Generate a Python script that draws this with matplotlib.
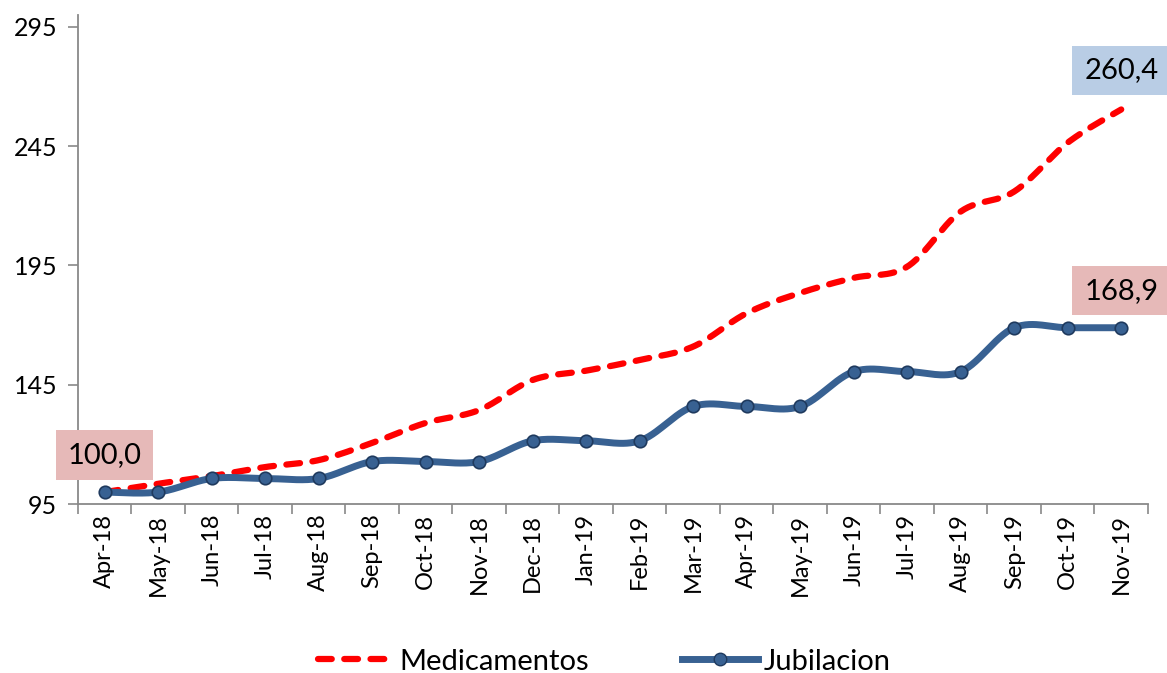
import numpy as np
import matplotlib
matplotlib.use("Agg")
import matplotlib.pyplot as plt

plt.rcParams['font.family'] = ['Lato', 'DejaVu Sans']

months = ["Apr-18", "May-18", "Jun-18", "Jul-18", "Aug-18", "Sep-18", "Oct-18",
          "Nov-18", "Dec-18", "Jan-19", "Feb-19", "Mar-19", "Apr-19", "May-19",
          "Jun-19", "Jul-19", "Aug-19", "Sep-19", "Oct-19", "Nov-19"]
medicamentos = [100.0, 103.5, 106.7, 110.5, 113.4, 120.6, 129.0, 134.4, 147.0, 150.9,
                155.4, 161.0, 175.0, 183.5, 189.8, 194.5, 217.6, 226.0, 246.5, 260.4]
jubilacion = [100.0, 100.0, 105.7, 105.7, 105.7, 112.8, 112.8, 112.8, 121.5, 121.5,
              121.5, 135.9, 135.9, 135.9, 150.5, 150.5, 150.5, 168.9, 168.9, 168.9]

RED = "#FF0000"
BLUE = "#386192"
GRAY = "#898989"


def smooth(y, n=30):
    """Excel-like smoothed line: cubic Bezier with Catmull-Rom control points."""
    x = np.arange(len(y), dtype=float)
    y = np.asarray(y, dtype=float)
    P = np.column_stack((x, y))
    P = np.vstack((P[0], P, P[-1]))
    t = np.linspace(0, 1, n)[:, None]
    out = []
    for i in range(1, len(P) - 2):
        p0, p1, p2, p3 = P[i - 1], P[i], P[i + 1], P[i + 2]
        c1 = p1 + (p2 - p0) / 6
        c2 = p2 - (p3 - p1) / 6
        seg = ((1 - t) ** 3) * p1 + 3 * ((1 - t) ** 2) * t * c1 + 3 * (1 - t) * t ** 2 * c2 + t ** 3 * p2
        out.append(seg if i == 1 else seg[1:])
    seg = np.vstack(out)
    return seg[:, 0], seg[:, 1]


fig = plt.figure(figsize=(11.67, 6.73), dpi=100)
ax = fig.add_axes([0.0668, 0.2511, 0.9169, 0.7266])

xm, ym = smooth(medicamentos)
ax.plot(xm, ym, color=RED, lw=4.5, dashes=(2.2, 2.0), dash_capstyle='round', zorder=3)
xj, yj = smooth(jubilacion)
ax.plot(xj, yj, color=BLUE, lw=5, solid_capstyle='round', zorder=4)
ax.plot(range(len(jubilacion)), jubilacion, ls='none', marker='o', ms=9,
        mfc=BLUE, mec="#1F3A5E", mew=1.2, zorder=5)

# legend proxies
ax.plot([], [], color=RED, lw=4.5, dashes=(2.2, 2.0), dash_capstyle='round', label="Medicamentos")
ax.plot([], [], color=BLUE, lw=5, marker='o', ms=9, mfc=BLUE, mec="#1F3A5E", label="Jubilacion")
handles, labels = ax.get_legend_handles_labels()
fig.legend(handles[-2:], labels[-2:], loc='center', bbox_to_anchor=(0.518, 0.017),
           ncol=2, frameon=False, fontsize=21, handlelength=2.6, columnspacing=3.2,
           handletextpad=0.2)

ax.set_xlim(-0.5, len(months) - 0.5)
ax.set_ylim(95, 300)
ax.set_yticks([95, 145, 195, 245, 295])
ax.set_xticks(range(len(months)))
ax.set_xticklabels(months, rotation=90, fontsize=17)
ax.set_xticks(np.arange(-0.5, len(months)), minor=True)
ax.tick_params(axis='x', which='major', length=0, pad=7)
ax.tick_params(axis='x', which='minor', length=7, color=GRAY, width=1.2)
ax.tick_params(axis='y', labelsize=18, length=7, color=GRAY, width=1.2, pad=8)
for s in ['top', 'right']:
    ax.spines[s].set_visible(False)
for s in ['left', 'bottom']:
    ax.spines[s].set_color(GRAY)
    ax.spines[s].set_linewidth(1.3)

box_pink = dict(boxstyle='square,pad=0.4', fc="#E6B9B8", ec='none')
box_blue = dict(boxstyle='square,pad=0.4', fc="#B9CDE5", ec='none')
ax.annotate(f"{jubilacion[0]:.1f}".replace('.', ','), (0, jubilacion[0]),
            xytext=(0, 37), textcoords='offset pixels', ha='center', va='center',
            fontsize=21, bbox=box_pink, zorder=6)
ax.annotate(f"{jubilacion[-1]:.1f}".replace('.', ','), (19, jubilacion[-1]),
            xytext=(0, 37), textcoords='offset pixels', ha='center', va='center',
            fontsize=21, bbox=box_pink, zorder=6)
ax.annotate(f"{medicamentos[-1]:.1f}".replace('.', ','), (19, medicamentos[-1]),
            xytext=(0, 39), textcoords='offset pixels', ha='center', va='center',
            fontsize=21, bbox=box_blue, zorder=6)

fig.savefig("out.png", dpi=100)
